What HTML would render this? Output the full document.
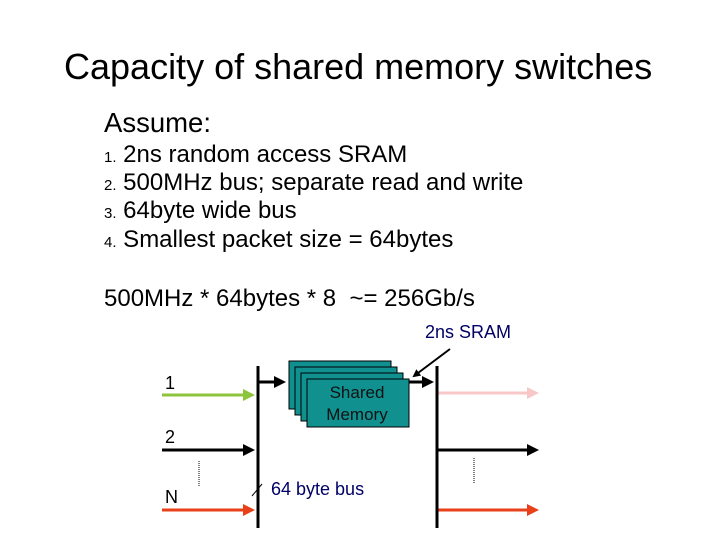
<!DOCTYPE html>
<html><head><style>
body{margin:0;width:720px;height:540px;background:#fff;position:relative;overflow:hidden;font-family:"Liberation Sans",sans-serif}
.t{position:absolute;white-space:nowrap;color:#000}
.n{font-size:15px}
</style></head><body>
<div class="t" style="left:64px;top:46px;font-size:36px">Capacity of shared memory switches</div>
<div class="t" style="left:104px;top:107px;font-size:27.5px">Assume:</div>
<div class="t" style="left:104px;top:141px;font-size:24px"><span class="n">1.</span>&nbsp;2ns random access SRAM</div>
<div class="t" style="left:104px;top:169px;font-size:24px"><span class="n">2.</span>&nbsp;500MHz bus; separate read and write</div>
<div class="t" style="left:104px;top:197px;font-size:24px"><span class="n">3.</span>&nbsp;64byte wide bus</div>
<div class="t" style="left:104px;top:226px;font-size:24px"><span class="n">4.</span>&nbsp;Smallest packet size = 64bytes</div>
<div class="t" style="left:104px;top:285px;font-size:24px">500MHz * 64bytes * 8&nbsp; ~= 256Gb/s</div>
<div class="t" style="left:425px;top:322px;font-size:18px;color:#000066">2ns SRAM</div>
<div class="t" style="left:165px;top:373px;font-size:18px">1</div>
<div class="t" style="left:165px;top:427px;font-size:18px">2</div>
<div class="t" style="left:165px;top:487px;font-size:18px">N</div>
<div class="t" style="left:271px;top:479px;font-size:18px;color:#000066">64 byte bus</div>
<svg width="720" height="540" style="position:absolute;left:0;top:0">
<defs>
<marker id="a" markerWidth="4" markerHeight="4" refX="3" refY="2" orient="auto" markerUnits="strokeWidth"><path d="M0,0L4,2L0,4z" fill="context-stroke"/></marker>
</defs>
<g stroke-width="3" fill="none">
<line x1="162" y1="395" x2="252" y2="395" stroke="#8cc43c" marker-end="url(#a)"/>
<line x1="162" y1="450" x2="252" y2="450" stroke="#000" marker-end="url(#a)"/>
<line x1="162" y1="510" x2="252" y2="510" stroke="#e84018" marker-end="url(#a)"/>
<line x1="438" y1="393" x2="536" y2="393" stroke="#f8c8c8" marker-end="url(#a)"/>
<line x1="438" y1="450" x2="536" y2="450" stroke="#000" marker-end="url(#a)"/>
<line x1="438" y1="510" x2="536" y2="510" stroke="#e84018" marker-end="url(#a)"/>
<line x1="259" y1="382" x2="283" y2="382" stroke="#000" marker-end="url(#a)"/>
<line x1="408" y1="382" x2="431" y2="382" stroke="#000" marker-end="url(#a)"/>
</g>
<line x1="450" y1="349" x2="414" y2="376" stroke="#000" stroke-width="2" marker-end="url(#a)"/>
<line x1="258" y1="366" x2="258" y2="528" stroke="#000" stroke-width="3"/>
<line x1="437" y1="366" x2="437" y2="528" stroke="#000" stroke-width="3"/>
<line x1="199" y1="461" x2="199" y2="486" stroke="#000" stroke-dasharray="1,1"/>
<line x1="474" y1="458" x2="474" y2="484" stroke="#000" stroke-dasharray="1,1"/>
<line x1="252" y1="496" x2="262" y2="484" stroke="#000"/>
<g fill="#119090" stroke="#000" stroke-width="1">
<rect x="289" y="361" width="102" height="48"/>
<rect x="295" y="367" width="102" height="48"/>
<rect x="301" y="373" width="102" height="48"/>
<rect x="307" y="379" width="102" height="48"/>
</g>
<text x="357" y="398" font-size="17" text-anchor="middle" fill="#111" font-family="Liberation Sans">Shared</text>
<text x="357" y="420" font-size="17" text-anchor="middle" fill="#111" font-family="Liberation Sans">Memory</text>
</svg>
</body></html>
